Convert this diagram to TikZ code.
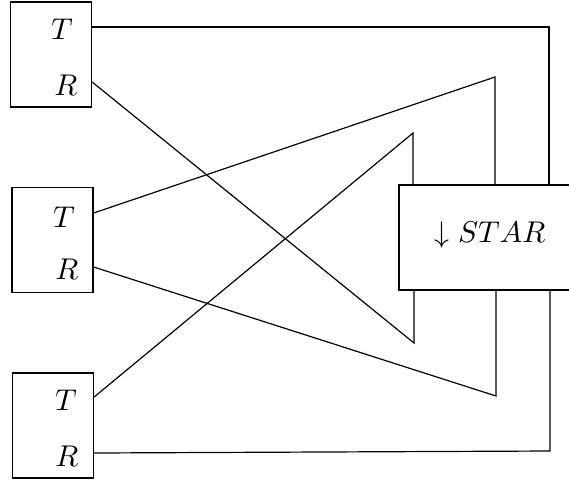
\documentclass[tikz,border=0pt]{standalone}
\begin{document}
\begin{tikzpicture}[x=1pt,y=-1pt,
  line width=1.3pt,
  unit/.style={draw,rectangle,minimum width=81pt,minimum height=105pt,inner sep=0pt},
  lbl/.style={inner sep=0pt,scale=3},
  starbox/.style={draw,rectangle,minimum width=172pt,minimum height=105pt,inner sep=0pt},
  wire/.style={line width=1.2pt}]
\clip (0,0) rectangle (569,485);
% left units
\node[unit] (u1) at (51,54.5) {};
\node[unit] (u2) at (52.5,240) {};
\node[unit] (u3) at (53,425.5) {};
\node[lbl] (t1) at (62,29) {$T$};
\node[lbl] (r1) at (66,85) {$R$};
\node[lbl] (t2) at (64,217) {$T$};
\node[lbl] (r2) at (67,269) {$R$};
\node[lbl] (t3) at (66,400) {$T$};
\node[lbl] (r3) at (67,456) {$R$};
% star box
\node[starbox] (star) at (485,237.5) {};
\node[lbl] (startxt) at (490,235) {$\downarrow STAR$};
% connector points
\coordinate (a1) at (u1.east |- 0,27);
\coordinate (b1) at (u1.east |- 0,82);
\coordinate (a2) at (u2.east |- 0,213);
\coordinate (b2) at (u2.east |- 0,267);
\coordinate (a3) at (u3.east |- 0,397);
\coordinate (b3) at (u3.east |- 0,453);
\coordinate (p1) at (549,27);
\coordinate (p2) at (495,77);
\coordinate (p3) at (413,133);
\coordinate (q1) at (414,343);
\coordinate (q2) at (496,396);
\coordinate (q3) at (550,451);
% wires
\draw[wire] (a1) -- (p1) -- (p1 |- star.north);
\draw[wire] (a2) -- (p2) -- (p2 |- star.north);
\draw[wire] (a3) -- (p3) -- (p3 |- star.north);
\draw[wire] (b1) -- (q1) -- (q1 |- star.south);
\draw[wire] (b2) -- (q2) -- (q2 |- star.south);
\draw[wire] (b3) -- (q3) -- (q3 |- star.south);
\end{tikzpicture}
\end{document}
